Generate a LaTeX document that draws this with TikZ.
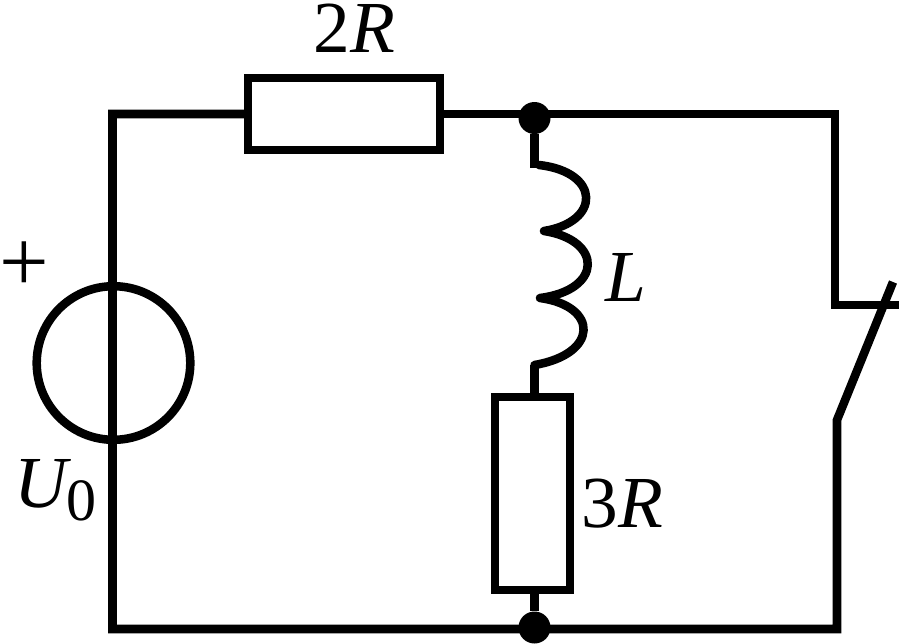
\documentclass[tikz,border=0pt]{standalone}
\usepackage{fontspec}
\setmainfont{Liberation Serif}
\tikzset{
  wire/.style={line width=6.4pt, line join=miter, line cap=butt},
  coil/.style={line width=6.4pt, line join=round, line cap=round},
  lbl/.style={font=\fontsize{55}{60}\selectfont, inner sep=0pt, text=black, anchor=base},
  resistor/.style={draw, line width=6.4pt, fill=white, inner sep=0pt, outer sep=0pt},
  dot/.style={circle, fill=black, inner sep=0pt, minimum size=24pt}
}
\begin{document}
\begin{tikzpicture}[x=0.75pt,y=-0.75pt]
\useasboundingbox (0,0) rectangle (899,643);
\coordinate (tl) at (112.5,114);
\coordinate (tr) at (835,114);
\coordinate (bl) at (112.5,629);
\coordinate (br) at (837,629);
\coordinate (swa) at (835,305);
\coordinate (swb) at (899,305);
\coordinate (swc) at (837,420);
\coordinate (swd) at (893,282);
\coordinate (la) at (534.5,168);
\coordinate (lb) at (534.5,365);
\coordinate (c1) at (544,231);
\coordinate (c2) at (540,298);
\node[dot] (n1) at (534.5,118) {};
\node[dot] (n2) at (534.5,627.5) {};
\node[resistor, minimum width=144pt, minimum height=54pt] (r1) at (344,114) {};
\node[resistor, minimum width=56pt, minimum height=144.5pt] (r2) at (532.5,493.5) {};
\draw[wire] (swd) -- (swc) -- (br) -- (bl) -- (tl) -- (r1.west);
\draw[wire] (r1.east) -- (tr) -- (swa) -- (swb);
\draw[wire] (n1) -- (la);
\draw[coil] (539,165) .. controls (601,172) and (601,222) .. (c1)
  .. controls (603,240) and (603,290) .. (c2)
  .. controls (599,306) and (599,354) .. (lb);
\draw[wire] (lb) -- (lb |- r2.north);
\draw[wire] (lb |- r2.south) -- (n2);
\draw[line width=6.4pt] (113.5,363) circle[radius=57.6pt];
\node[lbl] (t1) at (354.5,52) {2\textit{R}};
\node[lbl] (t2) at (625.5,301) {\textit{L}};
\node[lbl] (t3) at (622.5,527) {3\textit{R}};
\node[lbl, anchor=base west] (t4) at (14,507) {\textit{U}\hspace{-3.5pt}\raisebox{-10pt}{\fontsize{45}{50}\selectfont 0}};
\node[lbl, anchor=center, font=\fontsize{66}{68}\selectfont] (t5) at (24,267) {+};
\end{tikzpicture}
\end{document}
